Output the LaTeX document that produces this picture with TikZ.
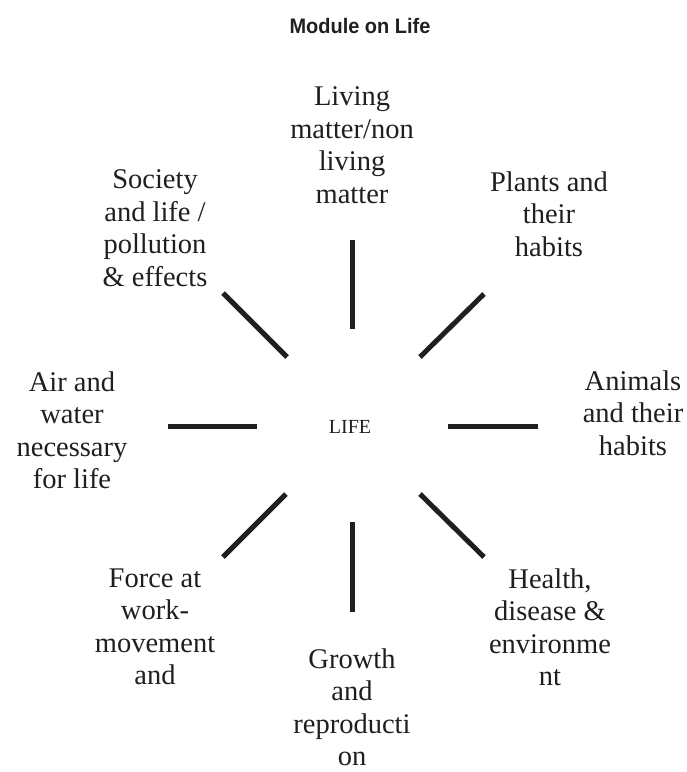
\documentclass[tikz,border=0pt]{standalone}
\usepackage{fontspec}
\setmainfont{Liberation Serif}
\newfontfamily\titlefont[FakeStretch=0.95]{Liberation Sans}
\begin{document}
\begin{tikzpicture}[x=1pt,y=-1pt,
  lbl/.style={align=center,inner sep=0pt,font=\fontsize{28.5}{32.5}\selectfont,text=black!88},
  spoke/.style={line width=5pt,black!88}]
\useasboundingbox (0,0) rectangle (687,772);
% title
\node[font=\titlefont\bfseries\fontsize{21}{24}\selectfont,text=black!88] (title) at (360,26) {Module on Life};
% centre
\node[font=\fontsize{20}{22}\selectfont,text=black!88] (life) at (350,427) {LIFE};
% labels
\node[lbl] (top) at (352,145) {Living\\matter/non\\living\\matter};
\node[lbl] (tr) at (549,214) {Plants and\\their\\habits};
\node[lbl] (tl) at (155,228) {Society\\and life /\\pollution\\\& effects};
\node[lbl] (le) at (72,430) {Air and\\water\\necessary\\for life};
\node[lbl] (ri) at (633,413) {Animals\\and their\\habits};
\node[lbl] (bl) at (155,627) {Force at\\work-\\movement\\and};
\node[lbl] (bo) at (352,707) {Growth\\and\\reproducti\\on};
\node[lbl] (br) at (550,627) {Health,\\disease \&\\environme\\nt};
% spoke end points
\coordinate (t1) at (352,240); \coordinate (t2) at (352,329);
\coordinate (tr1) at (484,294); \coordinate (tr2) at (420,357);
\coordinate (tl1) at (223,293); \coordinate (tl2) at (287,357);
\coordinate (l1) at (168,426); \coordinate (l2) at (257,426);
\coordinate (r1) at (448,426); \coordinate (r2) at (538,426);
\coordinate (bl1) at (223,557); \coordinate (bl2) at (286,494);
\coordinate (b1) at (352,522); \coordinate (b2) at (352,612);
\coordinate (br1) at (420,494); \coordinate (br2) at (484,557);
% spokes
\draw[spoke] (t1) -- (t2);
\draw[spoke] (tr1) -- (tr2);
\draw[spoke] (tl1) -- (tl2);
\draw[spoke] (l1) -- (l2);
\draw[spoke] (r1) -- (r2);
\draw[spoke] (bl1) -- (bl2);
\draw[spoke] (b1) -- (b2);
\draw[spoke] (br1) -- (br2);
\end{tikzpicture}
\end{document}
